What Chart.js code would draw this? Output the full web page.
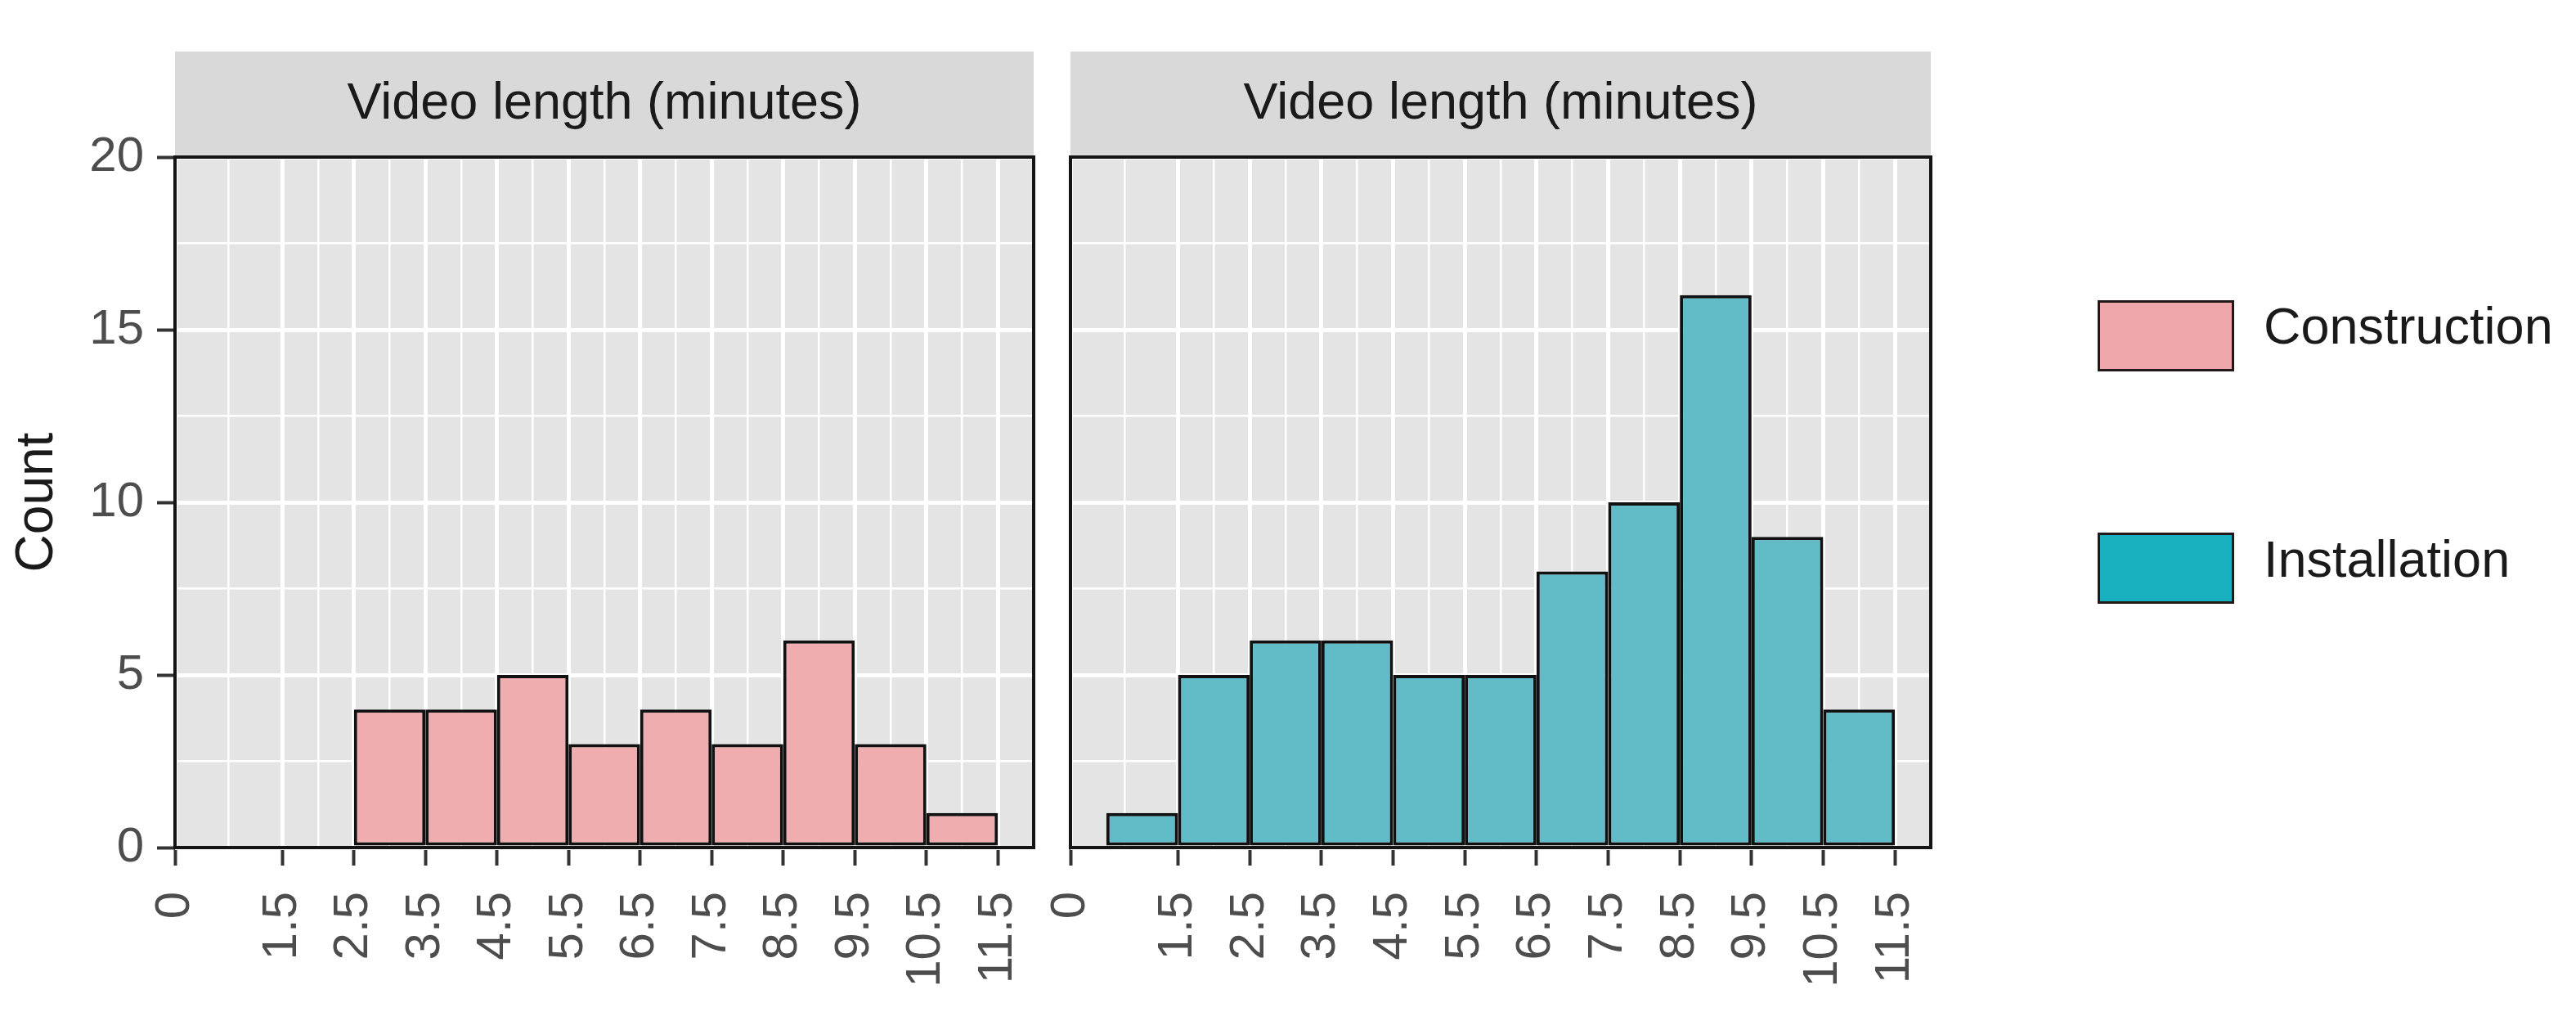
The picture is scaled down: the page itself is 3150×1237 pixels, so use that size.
<!DOCTYPE html>
<html>
<head>
<meta charset="utf-8">
<script src="https://cdn.jsdelivr.net/npm/chart.js@4"></script>
<style>
    body {
        margin: 0;
        background: #ffffff;
        width: 3150px;
        height: 1237px;
        overflow: hidden;
        position: relative;
        font-family: "Liberation Sans", Arial, sans-serif;
    }
    canvas { position: absolute; top: 0; }
    #leftPanel { left: 0; }
    #rightPanel { left: 1270px; }
    .legend-key {
        position: absolute;
        left: 2565px;
        width: 161px;
        height: 81px;
        border: 3px solid #231818;
    }
    .legend-label {
        position: absolute;
        left: 2768px;
        font-size: 63px;
        line-height: 63px;
        color: #1a1a1a;
        white-space: nowrap;
    }
</style>
</head>
<body>
<canvas id="leftPanel" width="1290" height="1237"></canvas>
<canvas id="rightPanel" width="1120" height="1237"></canvas>

<div class="legend-key" id="keyConstruction" style="top:367px"></div>
<div class="legend-label" id="labelConstruction" style="top:367px"></div>
<div class="legend-key" id="keyInstallation" style="top:651px"></div>
<div class="legend-label" id="labelInstallation" style="top:652px"></div>

<script>
// histogram bins (centres, width 1 minute)
const binCenters = [1, 2, 3, 4, 5, 6, 7, 8, 9, 10, 11];
const constructionCounts = [0, 0, 4, 4, 5, 3, 4, 3, 6, 3, 1];
const installationCounts = [1, 5, 6, 6, 5, 5, 8, 10, 16, 9, 4];

const seriesNames = ["Construction", "Installation"];
const stripLabel = "Video length (minutes)";
const yTitle = "Count";

// tick values
const xMajorTicks = [0, 1.5, 2.5, 3.5, 4.5, 5.5, 6.5, 7.5, 8.5, 9.5, 10.5, 11.5];
const xMinorTicks = [0.75, 2, 3, 4, 5, 6, 7, 8, 9, 10, 11];
const yMajorTicks = [0, 5, 10, 15, 20];
const yMinorTicks = [2.5, 7.5, 12.5, 17.5];

const FONT = "'Liberation Sans', Arial, sans-serif";
const STRIP_TOP = 63;
const barColors = ["#EFADAF", "#62BCC8"];
const keyColors = ["#EFA7AC", "#18B0BE"];

// grey panel background, strip and black frame
const panelDecor = {
    id: "panelDecor",
    beforeDraw(chart) {
        const { ctx, chartArea: a } = chart;
        ctx.save();
        ctx.fillStyle = "#D9D9D9";
        ctx.fillRect(a.left, STRIP_TOP, a.right - a.left, a.top - STRIP_TOP);
        ctx.fillStyle = "#E4E4E4";
        ctx.fillRect(a.left, a.top, a.right - a.left, a.bottom - a.top);
        ctx.restore();
    },
    afterDatasetsDraw(chart) {
        const { ctx, chartArea: a } = chart;
        ctx.save();
        ctx.strokeStyle = "#141414";
        ctx.lineWidth = 4;
        ctx.strokeRect(a.left, a.top, a.right - a.left, a.bottom - a.top);
        ctx.restore();
    }
};

function tickValue(c) {
    return c && c.tick ? c.tick.value : null;
}

function makePanel(canvasId, name, counts, color, showY, padLeft, padRight) {
    const allX = xMajorTicks.concat(xMinorTicks).sort((a, b) => a - b);
    const allY = yMajorTicks.concat(yMinorTicks).sort((a, b) => a - b);

    return new Chart(document.getElementById(canvasId), {
        type: "bar",
        data: {
            datasets: [{
                label: name,
                data: binCenters.map((x, i) => ({ x: x, y: counts[i] })),
                backgroundColor: color,
                borderColor: "#111111",
                borderWidth: 4,
                borderSkipped: false,
                // smallest tick gap is half a bin, so 2 makes each bar one bin wide
                barPercentage: 2,
                categoryPercentage: 1
            }]
        },
        options: {
            responsive: false,
            animation: false,
            events: [],
            layout: { padding: { top: STRIP_TOP, left: padLeft, right: padRight, bottom: 0 } },
            plugins: {
                legend: { display: false },
                tooltip: { enabled: false },
                title: {
                    display: true,
                    text: stripLabel,
                    fullSize: false,
                    color: "#1A1A1A",
                    font: { family: FONT, size: 63, weight: "normal", lineHeight: 1.2 },
                    padding: { top: 27, bottom: 26.4 }
                }
            },
            scales: {
                x: {
                    type: "linear",
                    min: 0,
                    max: 12,
                    offset: false,
                    afterBuildTicks: s => { s.ticks = allX.map(v => ({ value: v })); },
                    afterFit: s => {
                        s.height = 201;
                        s.paddingLeft = 0;
                        s.paddingRight = 0;
                    },
                    border: { display: false },
                    grid: {
                        offset: false,
                        color: "#FFFFFF",
                        lineWidth: c => xMajorTicks.includes(tickValue(c)) ? 5 : 2.5,
                        drawTicks: true,
                        tickLength: 22,
                        tickWidth: 4,
                        tickColor: c => xMajorTicks.includes(tickValue(c)) ? "#333333" : "rgba(0,0,0,0)"
                    },
                    ticks: {
                        autoSkip: false,
                        minRotation: 90,
                        maxRotation: 90,
                        padding: 32,
                        color: "#4D4D4D",
                        font: { family: FONT, size: 60 },
                        callback: v => xMajorTicks.includes(v) ? String(v) : ""
                    }
                },
                y: {
                    type: "linear",
                    min: 0,
                    max: 20,
                    afterBuildTicks: s => { s.ticks = allY.map(v => ({ value: v })); },
                    afterFit: s => {
                        s.width = showY ? 214 : 0;
                        s.paddingTop = 0;
                        s.paddingBottom = 0;
                    },
                    border: { display: false },
                    grid: {
                        color: "#FFFFFF",
                        lineWidth: c => yMajorTicks.includes(tickValue(c)) ? 5 : 2.5,
                        drawTicks: showY,
                        tickLength: 22,
                        tickWidth: 4,
                        tickColor: c => yMajorTicks.includes(tickValue(c)) ? "#333333" : "rgba(0,0,0,0)"
                    },
                    ticks: {
                        display: showY,
                        autoSkip: false,
                        padding: 16,
                        color: "#4D4D4D",
                        font: { family: FONT, size: 60 },
                        callback: v => yMajorTicks.includes(v) ? String(v) : ""
                    },
                    title: {
                        display: showY,
                        text: yTitle,
                        color: "#1A1A1A",
                        font: { family: FONT, size: 64, lineHeight: 1.2 },
                        padding: { top: 8, bottom: 0 }
                    }
                }
            }
        },
        plugins: [panelDecor]
    });
}

makePanel("leftPanel", seriesNames[0], constructionCounts, barColors[0], true, 0, 26);
makePanel("rightPanel", seriesNames[1], installationCounts, barColors[1], false, 39, 29);

// legend
document.getElementById("keyConstruction").style.background = keyColors[0];
document.getElementById("keyInstallation").style.background = keyColors[1];
document.getElementById("labelConstruction").textContent = seriesNames[0];
document.getElementById("labelInstallation").textContent = seriesNames[1];
</script>
</body>
</html>
